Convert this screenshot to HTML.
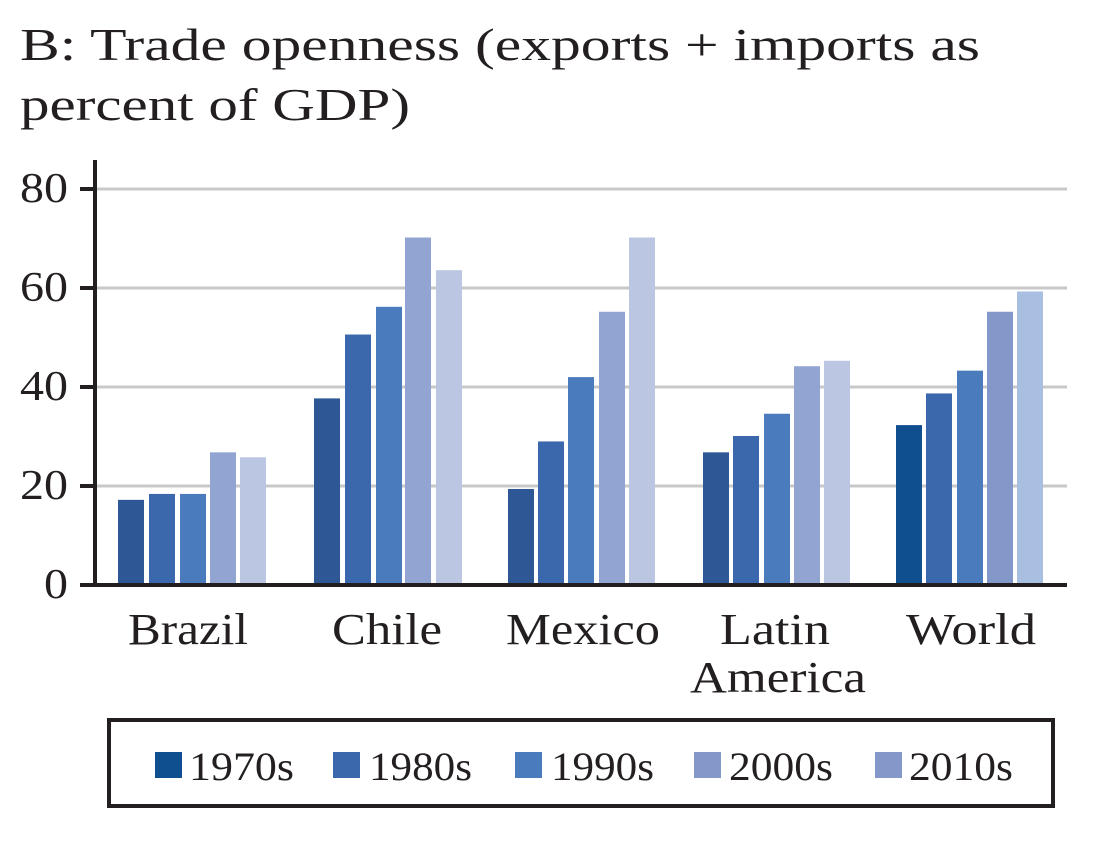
<!DOCTYPE html>
<html><head><meta charset="utf-8"><style>
body{margin:0;background:#fff;}
svg{display:block;font-family:"Liberation Serif",serif;}
</style></head><body>
<svg width="1100" height="850" viewBox="0 0 1100 850">
<text x="20" y="60" font-size="46" fill="#231f20" textLength="960" lengthAdjust="spacingAndGlyphs">B: Trade openness (exports + imports as</text>
<text x="20" y="120" font-size="46" fill="#231f20" textLength="390" lengthAdjust="spacingAndGlyphs">percent of GDP)</text>
<g stroke="#c8c8c8" stroke-width="3">
<line x1="96" y1="189" x2="1067" y2="189"/>
<line x1="96" y1="288" x2="1067" y2="288"/>
<line x1="96" y1="387" x2="1067" y2="387"/>
<line x1="96" y1="486" x2="1067" y2="486"/>
</g>
<g id="bars"></g>
<g stroke="#231f20" stroke-width="4">
<line x1="95" y1="160" x2="95" y2="587"/>
<line x1="80" y1="585" x2="1067" y2="585"/>
<line x1="80" y1="189" x2="95" y2="189"/>
<line x1="80" y1="288" x2="95" y2="288"/>
<line x1="80" y1="387" x2="95" y2="387"/>
<line x1="80" y1="486" x2="95" y2="486"/>
</g>
<g font-size="42" fill="#231f20" lengthAdjust="spacingAndGlyphs">
<text x="20" y="202" textLength="48" lengthAdjust="spacingAndGlyphs">80</text>
<text x="20" y="301" textLength="48" lengthAdjust="spacingAndGlyphs">60</text>
<text x="20" y="400" textLength="48" lengthAdjust="spacingAndGlyphs">40</text>
<text x="20" y="499" textLength="48" lengthAdjust="spacingAndGlyphs">20</text>
<text x="44" y="598" textLength="24" lengthAdjust="spacingAndGlyphs">0</text>
</g>
<g font-size="44" fill="#231f20">
<text x="128" y="644" textLength="120" lengthAdjust="spacingAndGlyphs">Brazil</text>
<text x="332" y="644" textLength="110" lengthAdjust="spacingAndGlyphs">Chile</text>
<text x="506" y="644" textLength="154" lengthAdjust="spacingAndGlyphs">Mexico</text>
<text x="720" y="644" textLength="110" lengthAdjust="spacingAndGlyphs">Latin</text>
<text x="690" y="692" textLength="176" lengthAdjust="spacingAndGlyphs">America</text>
<text x="906" y="644" textLength="130" lengthAdjust="spacingAndGlyphs">World</text>
</g>
<rect x="109" y="720" width="944" height="86" fill="none" stroke="#231f20" stroke-width="4"/>
<g font-size="40" fill="#231f20">
<rect x="155" y="752" width="27" height="26" fill="#0f4f8f"/><text x="189" y="780" textLength="105" lengthAdjust="spacingAndGlyphs">1970s</text>
<rect x="333" y="752" width="27" height="26" fill="#3b67ad"/><text x="369" y="780" textLength="103" lengthAdjust="spacingAndGlyphs">1980s</text>
<rect x="515" y="752" width="27" height="26" fill="#4a7bbd"/><text x="551" y="780" textLength="103" lengthAdjust="spacingAndGlyphs">1990s</text>
<rect x="694" y="752" width="27" height="26" fill="#8497c9"/><text x="729" y="780" textLength="104" lengthAdjust="spacingAndGlyphs">2000s</text>
<rect x="875" y="752" width="27" height="26" fill="#8497c9"/><text x="909" y="780" textLength="104" lengthAdjust="spacingAndGlyphs">2010s</text>
</g>
</svg>
<script>
var g=document.getElementById('bars');
var starts=[[118,149,180,210,240],[314,345,376,405,436],[508,538,568,599,629],[703,733,764,794,824],[896,926,957,987,1017]];
var vals=[[17.2,18.4,18.4,26.8,25.8],[37.7,50.6,56.2,70.2,63.6],[19.4,29,42,55.2,70.2],[26.8,30.1,34.6,44.2,45.3],[32.3,38.7,43.3,55.2,59.3]];
var cols=['#2d5795','#3b67ad','#4a7bbd','#91a4d2','#bbc6e2'];
var wcols=['#0f4f8f','#3b67ad','#4a7bbd','#8497c9','#a9bfe2'];
for(var i=0;i<5;i++)for(var j=0;j<5;j++){
var h=vals[i][j]*4.95;
var r=document.createElementNS('http://www.w3.org/2000/svg','rect');
r.setAttribute('x',starts[i][j]);r.setAttribute('width',26);
r.setAttribute('y',585-h);r.setAttribute('height',h);
r.setAttribute('fill',i==4?wcols[j]:cols[j]);g.appendChild(r);}
</script>
</body></html>
